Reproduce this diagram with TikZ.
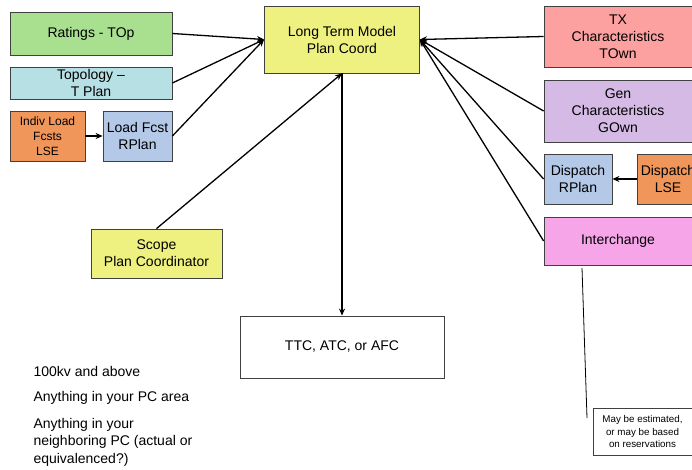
\documentclass[tikz,border=0pt]{standalone}
\usepackage{fontspec}
\setmainfont{Liberation Sans}
\usetikzlibrary{arrows.meta}

\definecolor{rateGreen}{HTML}{A8E090}
\definecolor{topoCyan}{HTML}{B7E0E4}
\definecolor{lseOrange}{HTML}{F0965A}
\definecolor{planBlue}{HTML}{B4C8E8}
\definecolor{coordYellow}{HTML}{EEF080}
\definecolor{ownPink}{HTML}{FCA0A0}
\definecolor{genLilac}{HTML}{D4BAE4}
\definecolor{xchgPink}{HTML}{F5A5E8}
\definecolor{edgeGray}{HTML}{404040}

\tikzset{
  box/.style={draw=edgeGray, line width=0.8pt, align=center, inner sep=2pt,
    font=\fontsize{14}{17}\selectfont},
  flow/.style={-{Stealth[length=7pt,width=6pt]}, line width=1.3pt},
  remark/.style={align=left, anchor=west, font=\fontsize{14}{17.5}\selectfont}
}

\begin{document}
\begin{tikzpicture}[x=1pt,y=-1pt]
\useasboundingbox (0,0) rectangle (692,470);
\clip (0,0) rectangle (692,470);

% left hand inputs
\node[box, fill=rateGreen, minimum width=162, minimum height=43] (ratings) at (91,33.5) {Ratings - TOp};
\node[box, fill=topoCyan, minimum width=162, minimum height=32] (topology) at (91,83) {Topology --\\T Plan};
\node[box, fill=lseOrange, minimum width=75, minimum height=50,
  font=\fontsize{12}{15}\selectfont] (indiv) at (47.5,136) {Indiv Load\\Fcsts\\LSE};
\node[box, fill=planBlue, minimum width=69, minimum height=50] (loadfcst) at (137.5,136) {Load Fcst\\RPlan};
\node[box, fill=coordYellow, minimum width=131, minimum height=49] (scope) at (156.5,253.5) {Scope\\Plan Coordinator};

% centre
\node[box, fill=coordYellow, minimum width=155, minimum height=67] (ltm) at (342,39.5) {Long Term Model\\Plan Coord};
\node[box, fill=white, minimum width=204, minimum height=62] (ttc) at (342,347) {TTC, ATC, or AFC};

% right hand inputs
\node[box, fill=ownPink, minimum width=148, minimum height=61] (tx) at (618,36.5) {TX\\Characteristics\\TOwn};
\node[box, fill=genLilac, minimum width=148, minimum height=62] (gen) at (618,111) {Gen\\Characteristics\\GOwn};
\node[box, fill=planBlue, minimum width=68, minimum height=50] (disprplan) at (578,179) {Dispatch\\RPlan};
\node[box, fill=lseOrange, minimum width=62, minimum height=50] (displse) at (668,179) {Dispatch\\LSE};
\node[box, fill=xchgPink, minimum width=148, minimum height=48] (interchange) at (618,241) {Interchange};

% notes
\node[remark] (kv) at (30,371) {100kv and above};
\node[remark] (pcarea) at (30,398) {Anything in your PC area};
\node[remark] (neighbor) at (30,442) {Anything in your\\neighboring PC (actual or\\equivalenced?)};
\node[box, fill=white, minimum width=99, minimum height=47, line width=0.6pt,
  font=\fontsize{9.8}{12.5}\selectfont] (note) at (642.5,431.5) {May be estimated,\\or may be based\\on reservations};
\coordinate (calloutTop) at (582,268);
\coordinate (calloutEnd) at (587,418);

\draw[flow] (ratings.east) -- (ltm.west);
\draw[flow] (topology.east) -- (ltm.west);
\draw[flow] (loadfcst.east) -- (ltm.west);
\draw[flow] (indiv.east) -- (loadfcst.west);
\draw[flow] (scope.north) -- (ltm.south);
\draw[flow] (ltm.south) -- (ttc.north);
\draw[flow] (tx.west) -- (ltm.east);
\draw[flow] (gen.west) -- (ltm.east);
\draw[flow] (disprplan.west) -- (ltm.east);
\draw[flow] (interchange.west) -- (ltm.east);
\draw[flow] (displse.west) -- (disprplan.east);
\draw[line width=0.8pt] (calloutTop) -- (calloutEnd);

\end{tikzpicture}
\end{document}
